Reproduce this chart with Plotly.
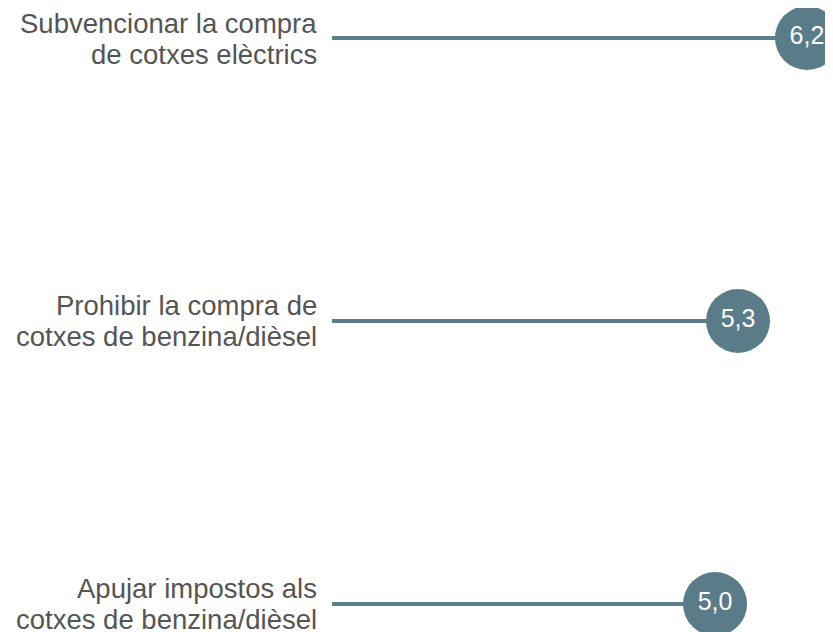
import plotly.graph_objects as go

# each label split into its two lines
labels_top = ["Subvencionar la compra", "Prohibir la compra de", "Apujar impostos als"]
labels_bottom = ["de cotxes elèctrics", "cotxes de benzina/dièsel", "cotxes de benzina/dièsel"]
cats = ["a", "b", "c"]
values = [6.2, 5.3, 5.0]
value_text = ["6,2", "5,3", "5,0"]

line_color = "#5b7e8b"
dot_color = "#5a7c89"
font_fam = "Liberation Sans, Arial, sans-serif"

fig = go.Figure()

for c, v in zip(cats, values):
    fig.add_trace(go.Scatter(x=[0, v], y=[c, c], mode="lines",
                             line=dict(color=line_color, width=4),
                             hoverinfo="skip", showlegend=False))

fig.add_trace(go.Scatter(x=values, y=cats, mode="markers+text",
                         marker=dict(size=64, color=dot_color),
                         text=value_text, textposition="middle center",
                         textfont=dict(color="white", size=25, family=font_fam),
                         cliponaxis=False, showlegend=False))

for c, t1, t2 in zip(cats, labels_top, labels_bottom):
    for txt, shift in [(t1, 15), (t2, -16)]:
        fig.add_annotation(x=0, y=c, xref="x", yref="y", text=txt,
                           showarrow=False, xanchor="right", yanchor="middle",
                           xshift=-13, yshift=shift,
                           font=dict(size=27.5, color="#555555", family=font_fam))

fig.update_xaxes(range=[-4.23, 6.54], visible=False, fixedrange=True)
fig.update_yaxes(type="category", categoryorder="array", categoryarray=cats,
                 range=[2.099, -0.106], visible=False, fixedrange=True)

fig.update_layout(width=825, height=624, margin=dict(l=0, r=0, t=0, b=0),
                  plot_bgcolor="white", paper_bgcolor="white")

fig.write_html("out.html")
